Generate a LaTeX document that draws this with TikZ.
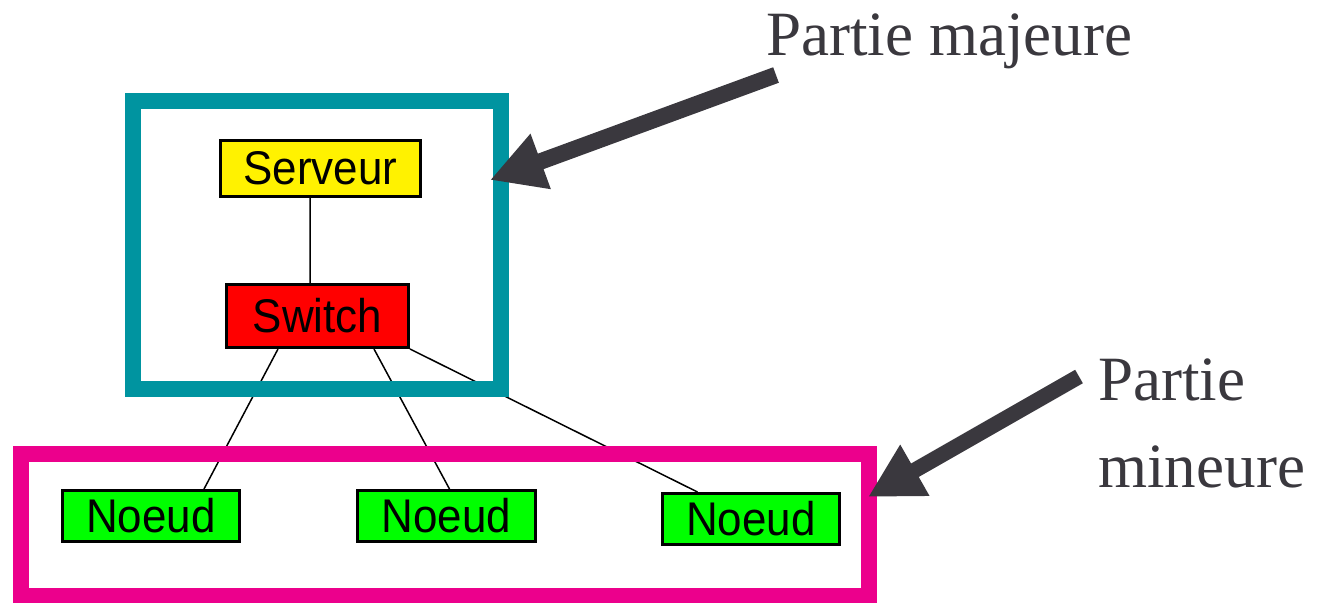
\documentclass[tikz,border=0pt]{standalone}
\usepackage{fontspec}
\setmainfont{Liberation Serif}
\newfontfamily\boxfont[FakeStretch=0.93]{Liberation Sans}
\usetikzlibrary{arrows.meta,backgrounds}
\definecolor{tealc}{RGB}{0,148,160}
\definecolor{magc}{RGB}{236,0,140}
\definecolor{arrc}{RGB}{58,56,62}
\begin{document}
\begin{tikzpicture}[x=0.02cm,y=-0.02cm,
  box/.style={draw=black,line width=1.7pt,inner sep=0pt,font=\boxfont\fontsize{26.9}{30}\selectfont},
  frame/.style={draw,line width=0.32cm,inner sep=0pt},
  link/.style={line width=0.85pt},
  bigarrow/.style={draw=arrc,line width=0.33cm,-{Triangle[length=1.08cm,width=1.1cm]}},
  lbl/.style={text=arrc,font=\fontsize{35.9}{49.3}\selectfont,inner sep=0pt,align=left}]
\useasboundingbox (0,0) rectangle (1318,603);
\node[box,fill=yellow,minimum width=4cm,minimum height=1.12cm] (serveur) at (320.5,168.5) {Serveur};
\node[box,fill=red,minimum width=3.64cm,minimum height=1.26cm] (switch) at (317.5,316) {Switch};
\node[box,fill=green,minimum width=3.54cm,minimum height=1.02cm] (n1) at (151,516) {Noeud};
\node[box,fill=green,minimum width=3.56cm,minimum height=1.02cm] (n2) at (446.5,516) {Noeud};
\node[box,fill=green,minimum width=3.54cm,minimum height=1.02cm] (n3) at (751,519) {Noeud};
\begin{pgfonlayer}{background}
\draw[link] ([xshift=-0.21cm]serveur.south) -- ([xshift=-0.15cm]switch.north);
\draw[link] ([xshift=-0.79cm]switch.south) -- ([xshift=1.06cm]n1.north);
\draw[link] ([xshift=1.13cm]switch.south) -- ([xshift=0.06cm]n2.north);
\draw[link] (switch.south east) -- ([xshift=-1.07cm]n3.north);
\node[frame,draw=tealc,minimum width=7.36cm,minimum height=5.76cm] (major) at (317,245) {};
\node[frame,draw=magc,minimum width=16.98cm,minimum height=2.84cm] (minor) at (445,524.5) {};
\end{pgfonlayer}
\node[lbl,anchor=base west] (lmaj) at (766,55) {Partie majeure};
\node[lbl,anchor=base west] (lmin) at (1098,487) {Partie\\mineure};
\coordinate (a1s) at (776,75);
\coordinate (a1e) at (490,180);
\coordinate (a2s) at (1079,376.5);
\coordinate (a2e) at (868,497);
\draw[bigarrow] (a1s) -- (a1e);
\draw[bigarrow,line width=0.31cm] (a2s) -- (a2e);
\end{tikzpicture}
\end{document}
